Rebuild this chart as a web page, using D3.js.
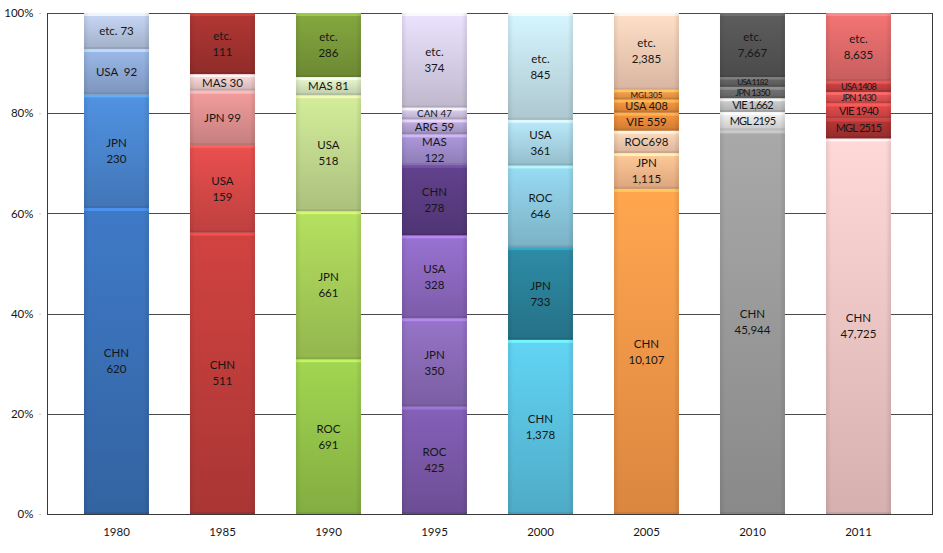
<!DOCTYPE html>
<html>
<head>
<meta charset="utf-8">
<script src="https://cdn.jsdelivr.net/npm/d3@7/dist/d3.min.js"></script>
<style>
  html, body { margin: 0; padding: 0; background: #ffffff; }
  svg { display: block; }
  text { font-family: Lato, "Open Sans", sans-serif; fill: #161616; white-space: pre; }
</style>
</head>
<body>
<svg id="chart" width="943" height="553"></svg>
<script>
// ---------------- data ----------------
const years = ["1980", "1985", "1990", "1995", "2000", "2005", "2010", "2011"];

const countries = [
  ["CHN", "JPN", "USA", "etc."],
  ["CHN", "USA", "JPN", "MAS", "etc."],
  ["ROC", "JPN", "USA", "MAS", "etc."],
  ["ROC", "JPN", "USA", "CHN", "MAS", "ARG", "CAN", "etc."],
  ["CHN", "JPN", "ROC", "USA", "etc."],
  ["CHN", "JPN", "ROC", "VIE", "USA", "MGL", "etc."],
  ["CHN", "MGL", "VIE", "JPN", "USA", "etc."],
  ["CHN", "MGL", "VIE", "JPN", "USA", "etc."]
];

const values = [
  [620, 230, 92, 73],
  [511, 159, 99, 30, 111],
  [691, 661, 518, 81, 286],
  [425, 350, 328, 278, 122, 59, 47, 374],
  [1378, 733, 646, 361, 845],
  [10107, 1115, 698, 559, 408, 305, 2385],
  [45944, 2195, 1662, 1350, 1182, 7667],
  [47725, 2515, 1940, 1430, 1408, 8635]
];

const labels = [
  ["CHN\n620", "JPN\n230", "USA  92", "etc. 73"],
  ["CHN\n511", "USA\n159", "JPN 99", "MAS 30", "etc.\n111"],
  ["ROC\n691", "JPN\n661", "USA\n518", "MAS 81", "etc.\n286"],
  ["ROC\n425", "JPN\n350", "USA\n328", "CHN\n278", "MAS\n122", "ARG 59", "CAN 47", "etc.\n374"],
  ["CHN\n1,378", "JPN\n733", "ROC\n646", "USA\n361", "etc.\n845"],
  ["CHN\n10,107", "JPN\n1,115", "ROC698", "VIE 559", "USA 408", "MGL305", "etc.\n2,385"],
  ["CHN\n45,944", "MGL 2195", "VIE 1,662", "JPN 1350", "USA 1182", "etc.\n7,667"],
  ["CHN\n47,725", "MGL 2515", "VIE 1940", "JPN 1430", "USA 1408", "etc.\n8,635"]
];

const yTicks = [0, 0.2, 0.4, 0.6, 0.8, 1.0];

// ---------------- styles ----------------
const palette = [
  ["#3a70b6", "#4a86cf", "#8ea9d6", "#b7c6e2"],
  ["#bf3d3b", "#d64947", "#df9090", "#f0cbcb", "#a33230"],
  ["#94c44a", "#a6ce58", "#c2da8e", "#d8e6c0", "#7a9a3a"],
  ["#7a58a8", "#8a6ab8", "#8c68c0", "#5a3c82", "#a08ccc", "#b3a3d4", "#cfc5e3", "#d8d0e8"],
  ["#5ac2e0", "#2a8099", "#8bc9df", "#a9d6e6", "#c4e1ea"],
  ["#f89848", "#f9ba8c", "#f8cbae", "#e88a3a", "#ea8f3e", "#f09a48", "#f6cdb6"],
  ["#9b9b9b", "#e2e2e2", "#c4c4c4", "#6e6e6e", "#626262", "#555555"],
  ["#f2c6c6", "#a83232", "#d84646", "#df5252", "#c24040", "#e06a6a"]
];

const plot = { left: 47, right: 932, top: 13, bottom: 514 };

const svg = d3.select("#chart");
const defs = svg.append("defs");

const x = d3.scaleBand()
  .domain(years)
  .range([plot.left, plot.right])
  .paddingInner(0.387)
  .paddingOuter(0.368)
  .align(0.474);

const y = d3.scaleLinear().domain([0, 1]).range([plot.bottom, plot.top]);

// gridlines
svg.append("g")
  .selectAll("line")
  .data(yTicks.filter(d => d > 0))
  .join("line")
  .attr("x1", plot.left).attr("x2", plot.right)
  .attr("y1", d => Math.round(y(d)) + 0.5).attr("y2", d => Math.round(y(d)) + 0.5)
  .attr("stroke", "#4a4a4a").attr("stroke-width", 1);

// y axis
const yAxis = d3.axisLeft(y).tickValues(yTicks).tickFormat(d3.format(".0%")).tickSize(0).tickPadding(14);
const yg = svg.append("g").attr("transform", `translate(${plot.left + 0.5},0)`).call(yAxis);
yg.select(".domain").remove();
yg.selectAll("text").attr("font-size", 11.5).attr("fill", "#161616").style("font-family", "Lato, sans-serif");
yg.selectAll(".tick").append("line")
  .attr("x1", -8).attr("x2", -7).attr("stroke", "#999");

// bars
years.forEach((yr, i) => {
  const vals = values[i];
  const total = d3.sum(vals);
  let cum = 0;
  const segs = vals.map((v, j) => {
    const s = { j, v, y0: cum / total, y1: (cum + v) / total, label: labels[i][j], color: palette[i][j] };
    cum += v;
    return s;
  });
  const g = svg.append("g");
  const bx = x(yr), bw = x.bandwidth();
  segs.forEach(s => {
    const top = y(s.y1), bot = y(s.y0), h = bot - top;
    const c = d3.color(s.color);
    const gid = `g${i}_${s.j}`;
    const grad = defs.append("linearGradient").attr("id", gid).attr("x1", 0).attr("x2", 0).attr("y1", 0).attr("y2", 1);
    grad.append("stop").attr("offset", "0%").attr("stop-color", c.brighter(0.25));
    grad.append("stop").attr("offset", "100%").attr("stop-color", c.darker(0.35));
    g.append("rect").attr("x", bx).attr("y", top).attr("width", bw).attr("height", h).attr("fill", `url(#${gid})`);
    // bevel: top highlight, bottom shade
    const hh = Math.min(3, h / 4);
    g.append("rect").attr("x", bx).attr("y", top).attr("width", bw).attr("height", hh)
      .attr("fill", c.brighter(0.9)).attr("opacity", 0.75);
    g.append("rect").attr("x", bx).attr("y", bot - Math.min(2, h / 5)).attr("width", bw).attr("height", Math.min(2, h / 5))
      .attr("fill", c.darker(0.7)).attr("opacity", 0.6);
    // side shading
    const sid = `s${i}_${s.j}`;
    const sg = defs.append("linearGradient").attr("id", sid).attr("x1", 0).attr("x2", 1).attr("y1", 0).attr("y2", 0);
    sg.append("stop").attr("offset", "0%").attr("stop-color", "#000").attr("stop-opacity", 0.08);
    sg.append("stop").attr("offset", "8%").attr("stop-color", "#000").attr("stop-opacity", 0);
    sg.append("stop").attr("offset", "92%").attr("stop-color", "#000").attr("stop-opacity", 0);
    sg.append("stop").attr("offset", "100%").attr("stop-color", "#000").attr("stop-opacity", 0.1);
    g.append("rect").attr("x", bx).attr("y", top).attr("width", bw).attr("height", h).attr("fill", `url(#${sid})`);

    // label
    const lines = s.label.split("\n");
    const cy = (top + bot) / 2;
    const single = lines.length === 1;
    const condensed = single && i >= 6;
    let fs = condensed ? 11 : 11.5;
    if (single) fs = Math.min(fs, h / 1.2);
    const t = g.append("text")
      .attr("text-anchor", "middle")
      .attr("font-size", fs)
      .attr("letter-spacing", condensed ? -0.8 : 0);
    const lh = 16;
    lines.forEach((ln, k) => {
      t.append("tspan")
        .attr("x", bx + bw / 2)
        .attr("y", cy + (k - (lines.length - 1) / 2) * lh + fs * 0.36)
        .text(ln);
    });
  });
});

// axes frame
svg.append("line").attr("x1", plot.left + 0.5).attr("x2", plot.left + 0.5).attr("y1", plot.top).attr("y2", plot.bottom + 0.5)
  .attr("stroke", "#3a3a3a");
svg.append("line").attr("x1", plot.right + 0.5).attr("x2", plot.right + 0.5).attr("y1", plot.top).attr("y2", plot.bottom + 0.5)
  .attr("stroke", "#3a3a3a");
svg.append("line").attr("x1", plot.left).attr("x2", plot.right + 1).attr("y1", plot.bottom + 0.5).attr("y2", plot.bottom + 0.5)
  .attr("stroke", "#3a3a3a");

// x axis labels
const xAxis = d3.axisBottom(x).tickSize(0).tickPadding(14);
const xg = svg.append("g").attr("transform", `translate(0,${plot.bottom})`).call(xAxis);
xg.select(".domain").remove();
xg.selectAll("text").attr("font-size", 11.5).attr("fill", "#161616").style("font-family", "Lato, sans-serif");
</script>
</body>
</html>
